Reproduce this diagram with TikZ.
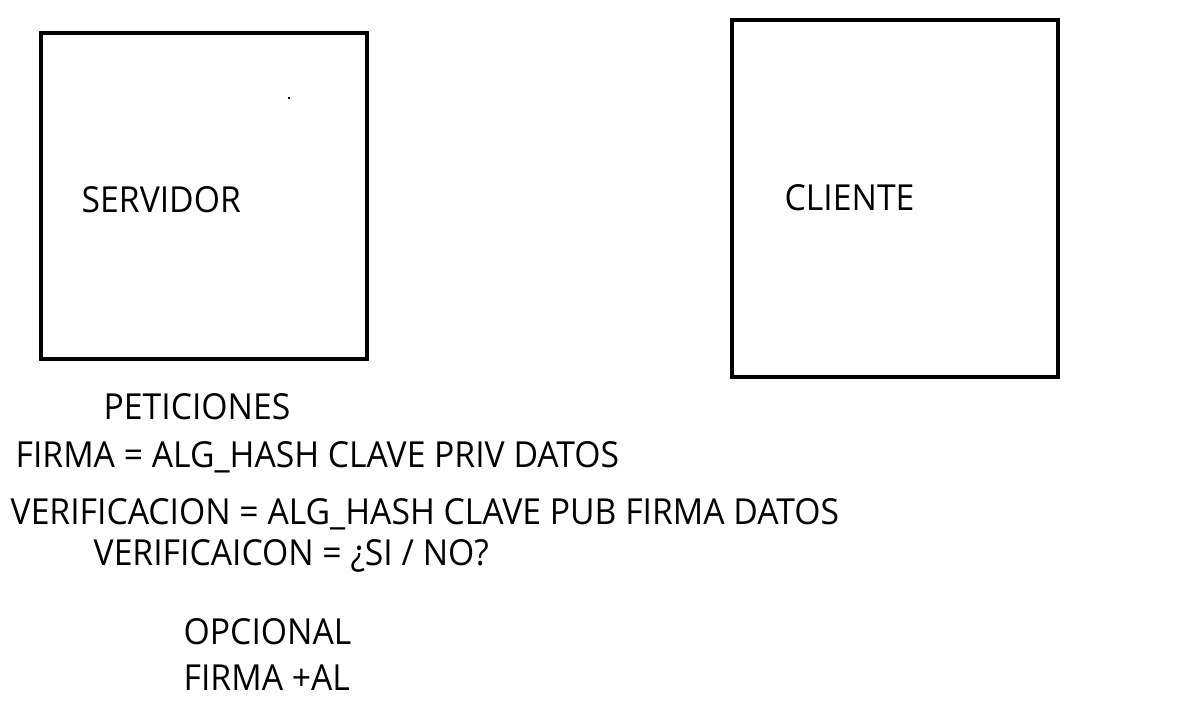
\documentclass[tikz,border=0pt]{standalone}
\usepackage{fontspec}
\setmainfont[FakeStretch=0.94]{Open Sans}
\usepackage{tikz}

\tikzset{
  caja/.style={line width=1.15pt},
  texto/.style={anchor=base west, inner sep=0pt, font=\fontsize{10.2pt}{12pt}\selectfont}
}

\begin{document}
\begin{tikzpicture}
			\useasboundingbox (0, 0) rectangle (11.84, -7.04);
			%%
			\draw[caja] (0.41, -0.33) rectangle (3.67, -3.59);
			\draw[caja] (7.32, -0.20) rectangle (10.58, -3.77);
			\fill (2.88, -0.97) rectangle +(0.02, -0.02);
			%%
			\node[texto] (servidor) at (0.81, -2.12) {SERVIDOR};
			\node[texto] (cliente) at (7.84, -2.10) {CLIENTE};
			%%
			\node[texto] (peticiones) at (1.03, -4.19) {PETICIONES};
			\node[texto] (firma) at (0.15, -4.67) {FIRMA = ALG\_HASH CLAVE PRIV DATOS};
			\node[texto] (verif) at (0.10, -5.24) {VERIFICACION = ALG\_HASH CLAVE PUB FIRMA DATOS};
			\node[texto] (resultado) at (0.93, -5.65) {VERIFICAICON = ¿SI / NO?};
			%%
			\node[texto] (opcional) at (1.83, -6.44) {OPCIONAL};
			\node[texto] (firmaal) at (1.83, -6.90) {FIRMA +AL};
\end{tikzpicture}
\end{document}
